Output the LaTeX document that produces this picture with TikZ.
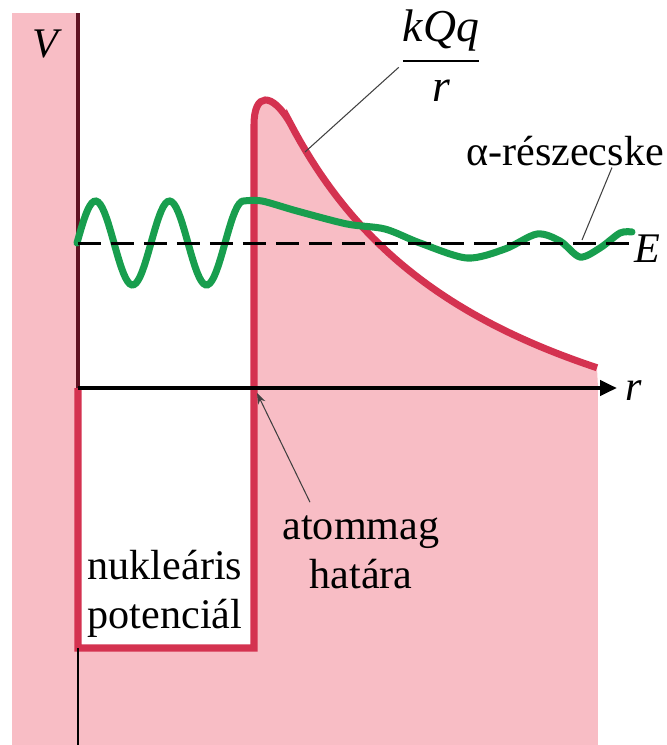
\documentclass[tikz,border=0pt]{standalone}
\usepackage{amsmath}
\usepackage{fontspec}
\setmainfont{Liberation Serif}
\usetikzlibrary{arrows.meta}
\definecolor{potpink}{RGB}{248,189,197}
\definecolor{potred}{RGB}{212,50,80}
\definecolor{wavegreen}{RGB}{24,158,78}
\definecolor{axisdark}{RGB}{96,18,34}

\begin{document}
\begin{tikzpicture}[x=0.02cm,y=-0.02cm,
  lbl/.style={inner sep=1pt,font=\fontsize{24}{28}\selectfont},
  potline/.style={draw=potred,line width=4pt},
  wave/.style={draw=wavegreen,line width=4pt,line cap=round},
  leader/.style={draw=black!75,line width=0.6pt},
  raxis/.style={draw=black,line width=2.3pt}]
\useasboundingbox (0,0) rectangle (667,745);
% pink areas
\fill[potpink] (12,13) rectangle (78,388);
\fill[potpink] (12,388) rectangle (598,745);
\fill[white] (78,388) rectangle (254,648);
\fill[potpink] (254,388) -- (254,125) .. controls (254,92) and (272,92) .. (290,122.8)
  -- plot[domain=290:597,samples=60] (\x,{543.3-925.15/((\x-70)/100)})
  -- (598,388) -- cycle;
% potential
\draw[potline] (78,388) -- (78,648) -- (254,648) -- (254,125) .. controls (254,92) and (272,92) .. (290,122.8)
  -- plot[domain=290:597,samples=60] (\x,{543.3-925.15/((\x-70)/100)});
\draw[axisdark,line width=2.3pt] (78,13) -- (78,388);
\draw[black,line width=0.6pt] (78,648) -- (78,745);
% wave function
\draw[wave] plot[domain=77:243.5,samples=80] (\x,{243-42*sin(((\x-77)/74)*360)})
  -- plot[smooth] coordinates {(243.5,201) (262,201) (297,211) (347,224) (385,229) (420,243) (467,258) (505,249) (537,234) (560,241) (580,257) (600,248) (620,233) (632,232)};
\draw[black,line width=1.7pt,dash pattern=on 0.46cm off 0.2cm] (78,243) -- (632,243);
\draw[raxis,-{Triangle[length=0.34cm,width=0.3cm]}] (78,388) -- (617,388);

% labels
\node[lbl] (vlabel) at (47,44) {\textit{V}};
\node[lbl,anchor=base] (rlabel) at (634,400) {\textit{r}};
\node[lbl,anchor=base] (elabel) at (647,262) {\textit{E}};
\node[lbl,font=\fontsize{26}{30}\selectfont] (frac) at (441,56) {$\genfrac{}{}{1.5pt}{0}{\hbox{\itshape kQq}}{\hbox{\itshape r}}$};
\node[lbl,anchor=base] (alpha) at (565,165) {α-részecske};
\node[lbl,align=center] (nuc) at (165,594) {nukleáris\\potenciál};
\node[lbl,align=center] (atom) at (361,552) {atommag\\határa};

\coordinate (peakpt) at (305,152);
\coordinate (wavept) at (582,240);
\coordinate (rim) at (257,393);
\draw[leader] (frac.195) -- (peakpt);
\draw[leader] ([xshift=0.94cm]alpha.south) -- (wavept);
\draw[leader,-{Stealth[length=0.22cm,width=0.16cm]}] ([shift={(-51,-11)}]atom.north) -- (rim);
\end{tikzpicture}
\end{document}
